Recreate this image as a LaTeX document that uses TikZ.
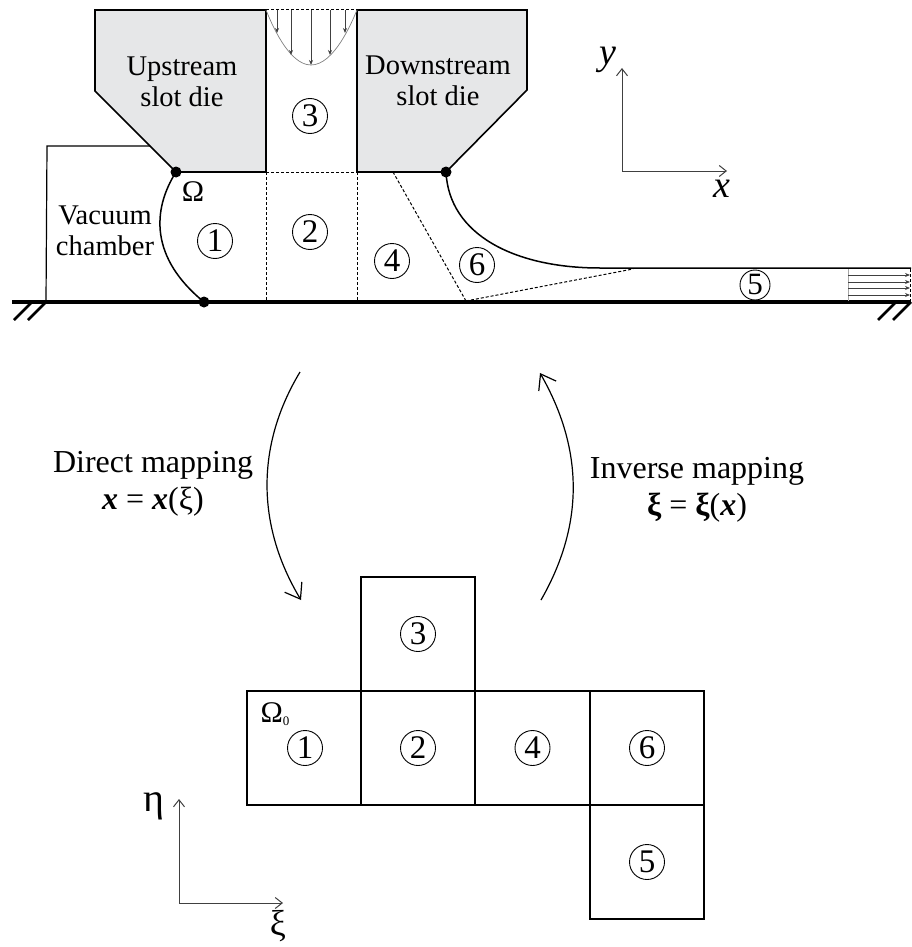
\documentclass[tikz,border=0pt]{standalone}
\usepackage{fontspec}
\setmainfont{Liberation Serif}
\usetikzlibrary{arrows.meta}
\definecolor{diegray}{HTML}{E6E7E8}
\begin{document}
\begin{tikzpicture}[x=1pt,y=-1pt,font=\fontsize{28.5}{31}\selectfont]
       \tikzstyle{dienode}=[align=center, inner sep=0pt]
       \tikzstyle{labelnode}=[align=center, inner sep=0pt, font=\fontsize{32}{36.5}\selectfont]
       \tikzstyle{zonenode}=[draw, circle, minimum size=35pt, inner sep=0pt, line width=0.9pt, font=\fontsize{33}{33}\selectfont]
       \tikzstyle{smallzone}=[draw, circle, minimum size=30pt, inner sep=0pt, line width=0.9pt, font=\fontsize{31}{31}\selectfont]
       \tikzstyle{boxnode}=[draw, minimum size=114pt, inner sep=0pt, line width=1.7pt]
       \tikzstyle{dotnode}=[fill=black, circle, minimum size=11pt, inner sep=0pt]
       \tikzstyle{diewall}=[draw, line width=1.6pt, fill=diegray, line join=miter]
       \tikzstyle{surface}=[draw, line width=1.5pt]
       \tikzstyle{cutline}=[draw, line width=1pt, dash pattern=on 3pt off 2pt]
       \tikzstyle{axisline}=[draw, line width=1pt, black!75, -{Straight Barb[length=7pt,width=11pt]}]
       \tikzstyle{sweep}=[draw, line width=1.2pt, -{Straight Barb[length=14pt,width=20pt]}]
       \tikzstyle{flowline}=[draw, line width=0.8pt, black!75, -{Stealth[length=5pt,width=4pt]}]
       \useasboundingbox (0,0) rectangle (911,947);
       % slot dies
       \path[diewall] (95,10) -- (266,10) -- (266,172) -- (176,172) -- (95,91) -- cycle;
       \path[diewall] (357,10) -- (527,10) -- (527,90) -- (446,172) -- (357,172) -- cycle;
       \node[dienode] (upstream) at (182,82) {Upstream\\slot die};
       \node[dienode] (downstream) at (438,81) {Downstream\\slot die};
       \coordinate (pipetop) at (150,146);
       \coordinate (pipefoot) at (46,302);
       % contact points
       \node[dotnode] (upperleft) at (176,172) {};
       \node[dotnode] (upperright) at (446,172) {};
       \node[dotnode] (lowerleft) at (204,302) {};
       \coordinate (filmstart) at (600,268);
       \coordinate (filmend) at (911,268);
       \coordinate (wallleft) at (12,302);
       \coordinate (wallright) at (911,302);
       % substrate
       \draw[line width=3.2pt] (wallleft) -- (wallright);
       \foreach \xa in {14,28,878,893}
        \draw[line width=2.6pt] (\xa,320) -- ++(18,-18);
       \draw[line width=1.2pt] (pipefoot) -- (47,146) -- (pipetop);
       % free surfaces
       \path[surface] (upperleft.center) .. controls (152,210) and (150,258) .. (lowerleft.center);
       \path[surface] (upperright.center) .. controls (449,235) and (515,268) .. (filmstart) -- (filmend);
       % zone borders
       \path[cutline] (266,10) -- (357,10);
       \path[cutline] (266,172) -- (357,172);
       \path[cutline] (266,172) -- (266,302);
       \path[cutline] (357,172) -- (357,302);
       \path[cutline] (393,172) -- (466,301);
       \path[cutline] (466,301) -- (633,269);
       \path[cutline] (910,269) -- (910,301);
       % inlet profile
       \draw[gray, line width=0.7pt] (266,10) parabola bend (311,65) (357,10);
       \foreach \xa/\ya in {277/33,291/55,311/65,330/55,345/33}
        \path[flowline] (\xa,10) -- (\xa,\ya);
       % outlet profile
       \draw[gray!70, line width=1pt] (848,269) -- (848,301);
       \foreach \ya in {275,282,288,295}
        \path[flowline] (848,\ya) -- (910,\ya);
       % zones of the physical domain
       \node[zonenode] (one) at (215,241) {1};
       \node[zonenode] (two) at (310,232) {2};
       \node[zonenode] (three) at (310,116) {3};
       \node[zonenode] (four) at (392,261) {4};
       \node[zonenode] (six) at (477,265) {6};
       \node[smallzone] (five) at (755,285) {5};
       \node[dienode] (vacuum) at (105,231) {Vacuum\\chamber};
       \node[inner sep=0pt, font=\fontsize{30}{30}\selectfont] (omega) at (193,192) {Ω};
       % axes of the physical domain
       \coordinate (origin) at (622,171);
       \path[axisline] (origin) -- (622,68);
       \path[axisline] (origin) -- (727,171);
       \node[inner sep=0pt, font=\fontsize{38}{38}\selectfont\itshape] (ylabel) at (608,60) {y};
       \node[inner sep=0pt, font=\fontsize{38}{38}\selectfont\itshape] (xlabel) at (722,189) {x};
       % mappings
       \coordinate (directstart) at (300,372);
       \coordinate (directend) at (301,600);
       \coordinate (inversestart) at (541,600);
       \coordinate (inverseend) at (540,373);
       \path[sweep] (directstart) .. controls (256,445) and (256,525) .. (directend);
       \path[sweep] (inversestart) .. controls (584,525) and (584,450) .. (inverseend);
       \node[labelnode] (direct) at (153,484) {Direct mapping\\\textbf{\textit{x}} = \textbf{\textit{x}}(ξ)};
       \node[labelnode] (inverse) at (697,490) {Inverse mapping\\\textbf{ξ} = \textbf{ξ}(\textbf{\textit{x}})};
       % computational domain
       \node[boxnode] (boxone) at (304,748) {};
       \node[boxnode] (boxtwo) at (418,748) {};
       \node[boxnode] (boxthree) at (418,634) {};
       \node[boxnode] (boxfour) at (532.5,748) {};
       \node[boxnode] (boxsix) at (647,748) {};
       \node[boxnode] (boxfive) at (647,862) {};
       \node[zonenode] (zoneone) at (305,748) {1};
       \node[zonenode] (zonetwo) at (boxtwo) {2};
       \node[zonenode] (zonethree) at (boxthree) {3};
       \node[zonenode] (zonefour) at (boxfour) {4};
       \node[zonenode] (zonesix) at (boxsix) {6};
       \node[zonenode] (zonefive) at (boxfive) {5};
       \node[inner sep=0pt, font=\fontsize{30}{30}\selectfont] (omegazero) at (275,714) {Ω\raisebox{-3pt}{\fontsize{13}{13}\selectfont 0}};
       % axes of the computational domain
       \coordinate (corner) at (179,903);
       \path[axisline] (corner) -- (179,799);
       \path[axisline] (corner) -- (283,903);
       \node[inner sep=0pt, font=\fontsize{40}{40}\selectfont] (etalabel) at (154,806) {η};
       \node[inner sep=0pt, font=\fontsize{36}{36}\selectfont] (xilabel) at (278,926) {ξ};
      \end{tikzpicture}
\end{document}
